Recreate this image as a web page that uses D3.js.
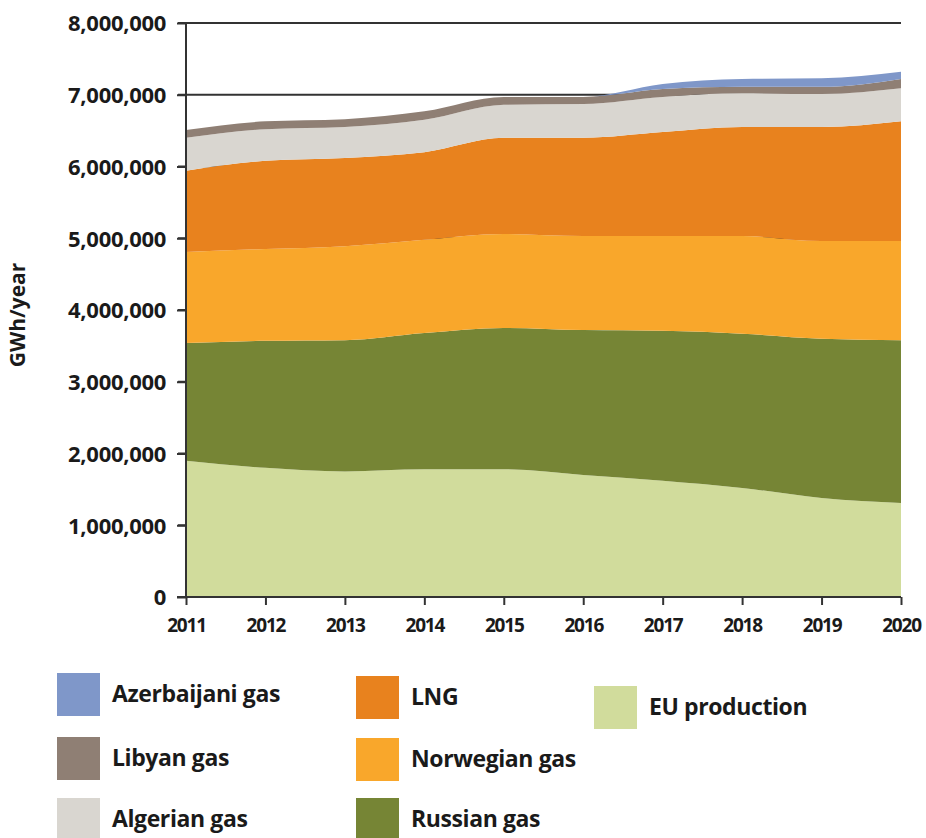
<!DOCTYPE html>
<html>
<head>
<meta charset="utf-8">
<script src="https://cdn.jsdelivr.net/npm/d3@7"></script>
<style>
  body { margin: 0; background: #fff; }
  svg { display: block; }
  text { font-family: "Open Sans", sans-serif; font-weight: 700; fill: #1a1a1a; }
</style>
</head>
<body>
<svg id="chart" width="926" height="838"></svg>
<script>
// ---- data (GWh/year) ----
const years = [2011, 2012, 2013, 2014, 2015, 2016, 2017, 2018, 2019, 2020];
const euProduction  = [1900000, 1800000, 1750000, 1780000, 1780000, 1700000, 1620000, 1520000, 1380000, 1310000];
const russianGas    = [1640000, 1770000, 1830000, 1900000, 1970000, 2020000, 2090000, 2150000, 2220000, 2270000];
const norwegianGas  = [1270000, 1280000, 1310000, 1300000, 1310000, 1310000, 1320000, 1360000, 1360000, 1380000];
const lng           = [1130000, 1230000, 1230000, 1220000, 1340000, 1370000, 1450000, 1520000, 1590000, 1670000];
const algerianGas   = [ 460000,  440000,  430000,  450000,  460000,  470000,  490000,  470000,  460000,  460000];
const libyanGas     = [ 110000,  110000,  110000,  120000,  110000,  100000,  110000,   90000,  100000,  130000];
const azerbaijaniGas= [      0,       0,       0,       0,       0,       0,   70000,  110000,  120000,  100000];
const yTicks = [0, 1000000, 2000000, 3000000, 4000000, 5000000, 6000000, 7000000, 8000000];

const seriesNames  = ["EU production", "Russian gas", "Norwegian gas", "LNG", "Algerian gas", "Libyan gas", "Azerbaijani gas"];
const seriesValues = [euProduction, russianGas, norwegianGas, lng, algerianGas, libyanGas, azerbaijaniGas];
const seriesColors = ["#d1dc9c", "#768535", "#f9a72b", "#e8821e", "#d9d6d0", "#8f7f74", "#7f97c9"];

// legend layout order (columns)
const legendOrder = ["Azerbaijani gas", "Libyan gas", "Algerian gas", "LNG", "Norwegian gas", "Russian gas", "EU production"];

// ---- build table ----
const table = years.map((y, i) => {
  const row = { year: y };
  seriesNames.forEach((n, k) => row[n] = seriesValues[k][i]);
  return row;
});

const svg = d3.select("#chart");
const margin = { left: 186, top: 23, right: 25, bottom: 241 };
const W = 926 - margin.left - margin.right;
const H = 838 - margin.top - margin.bottom;

const x = d3.scaleLinear().domain([2011, 2020]).range([0, W]);
const y = d3.scaleLinear().domain([0, 8000000]).range([H, 0]);

const g = svg.append("g").attr("transform", `translate(${margin.left},${margin.top})`);

// gridlines (behind areas)
g.append("g").selectAll("line").data(yTicks.filter(t => t > 0)).join("line")
  .attr("x1", -8).attr("x2", W)
  .attr("y1", d => y(d)).attr("y2", d => y(d))
  .attr("stroke", "#333").attr("stroke-width", 2);

const stack = d3.stack().keys(seriesNames);
const stacked = stack(table);

const area = d3.area()
  .x(d => x(d.data.year))
  .y0(d => y(d[0]))
  .y1(d => y(d[1]))
  .curve(d3.curveMonotoneX);

g.append("g").selectAll("path").data(stacked).join("path")
  .attr("d", area)
  .attr("fill", (d, i) => seriesColors[i]);

// y axis
const yAxis = d3.axisLeft(y).tickValues(yTicks).tickSize(9).tickPadding(11)
  .tickFormat(d3.format(","));
const ya = g.append("g").call(yAxis);
ya.select(".domain").attr("stroke", "#333").attr("stroke-width", 2).attr("d", `M0,${H}V0`);
ya.selectAll(".tick line").attr("stroke", "#333").attr("stroke-width", 2);
ya.selectAll("text").style("font-size", "22px").style("font-family", "'Open Sans', sans-serif")
  .style("font-weight", 700).style("letter-spacing", "-0.3px").attr("fill", "#1a1a1a").attr("dy", "0.36em");

// x axis
const xAxis = d3.axisBottom(x).tickValues(years).tickSize(8).tickPadding(14)
  .tickFormat(d3.format("d"));
const xa = g.append("g").attr("transform", `translate(0,${H})`).call(xAxis);
xa.select(".domain").attr("stroke", "#333").attr("stroke-width", 2).attr("d", `M-9,0H${W}`);
xa.selectAll(".tick line").attr("stroke", "#333").attr("stroke-width", 2);
xa.selectAll("text").style("font-size", "19px").style("font-family", "'Open Sans', sans-serif")
  .style("font-weight", 700).style("letter-spacing", "-1.2px").attr("fill", "#1a1a1a");

// y label
svg.append("text")
  .attr("transform", `translate(25,${margin.top + H / 2 + 5}) rotate(-90)`)
  .attr("text-anchor", "middle")
  .style("font-size", "21px")
  .text("GWh/year");

// legend
const legendPos = {
  "Azerbaijani gas": [57, 673],
  "Libyan gas": [57, 737],
  "Algerian gas": [57, 798],
  "LNG": [356, 676],
  "Norwegian gas": [356, 738],
  "Russian gas": [356, 798],
  "EU production": [594, 686]
};
const lg = svg.append("g");
legendOrder.forEach(name => {
  const k = seriesNames.indexOf(name);
  const [lx, ly] = legendPos[name];
  lg.append("rect").attr("x", lx).attr("y", ly).attr("width", 43).attr("height", 43)
    .attr("fill", seriesColors[k]);
  lg.append("text").attr("x", lx + 55).attr("y", ly + 21).attr("dy", "0.35em")
    .style("font-size", "23px").style("letter-spacing", "-0.4px").text(name);
});
</script>
</body>
</html>
